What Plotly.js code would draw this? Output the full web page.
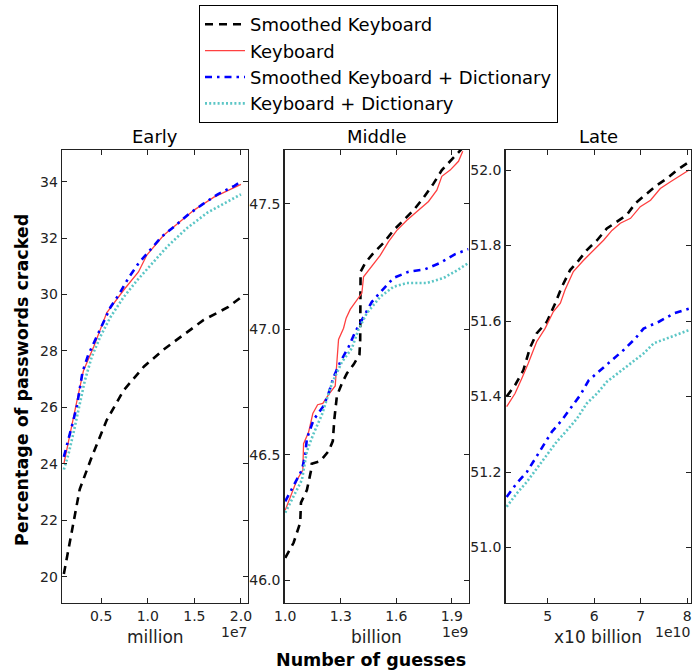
<!DOCTYPE html>
<html>
<head>
<meta charset="utf-8">
<script src="https://cdn.plot.ly/plotly-3.0.1.min.js"></script>
<style>html,body{margin:0;padding:0;background:#fff;}#chart{width:693px;height:671px;}</style>
</head>
<body>
<div id="chart"></div>
<script>
// ---------- Data ----------
const seriesNames = ["Smoothed Keyboard", "Keyboard", "Smoothed Keyboard + Dictionary", "Keyboard + Dictionary"];
const panelTitles = ["Early", "Middle", "Late"];
const unitLabels = ["million", "billion", "x10 billion"];
const offsetLabels = ["1e7", "1e9", "1e10"];

// Early panel (guesses)
const earlySKx = [1.0e6, 1.8e6, 2.7e6, 4.0e6, 5.6e6, 7.4e6, 9.6e6, 1.17e7, 1.39e7, 1.6e7, 1.86e7, 2.0e7];
const earlySKy = [20.1, 21.5, 23.1, 24.25, 25.55, 26.6, 27.45, 28.05, 28.6, 29.1, 29.55, 29.9];
const earlyKx = [1.0e6, 1.65e6, 2.35e6, 3.1e6, 4.2e6, 5.6e6, 7.4e6, 9.0e6, 9.9e6, 1.17e7, 1.5e7, 1.71e7, 2.0e7];
const earlyKy = [24.0, 25.1, 26.15, 27.3, 28.15, 29.35, 30.15, 30.8, 31.4, 32.1, 33.0, 33.45, 33.9];
const earlySKDx = [1.0e6, 1.5e6, 1.95e6, 2.4e6, 3.0e6, 3.6e6, 4.35e6, 5.1e6, 6.0e6, 7.0e6, 7.95e6, 9.0e6, 1.03e7, 1.15e7, 1.3e7, 1.44e7, 1.59e7, 1.75e7, 1.93e7, 2.0e7];
const earlySKDy = [24.25, 24.85, 25.45, 26.05, 27.25, 27.85, 28.4, 28.95, 29.55, 30.05, 30.6, 31.1, 31.6, 32.05, 32.45, 32.85, 33.2, 33.55, 33.85, 34.0];
const earlyKDx = [1.0e6, 1.5e6, 2.0e6, 2.55e6, 3.25e6, 4.0e6, 4.9e6, 6.0e6, 7.4e6, 8.85e6, 1.03e7, 1.21e7, 1.42e7, 1.64e7, 1.86e7, 2.0e7];
const earlyKDy = [23.8, 24.35, 25.05, 25.9, 26.95, 27.8, 28.5, 29.2, 29.9, 30.5, 31.05, 31.7, 32.35, 32.9, 33.3, 33.55];

// Middle panel
const midSKx = [1.0e9, 1.045e9, 1.081e9, 1.085e9, 1.117e9, 1.14e9, 1.143e9, 1.189e9, 1.234e9, 1.257e9, 1.265e9, 1.279e9, 1.306e9, 1.333e9, 1.369e9, 1.401e9, 1.405e9, 1.406e9, 1.407e9, 1.432e9, 1.477e9, 1.531e9, 1.585e9, 1.639e9, 1.693e9, 1.747e9, 1.80e9, 1.846e9, 1.891e9, 1.927e9, 1.954e9];
const midSKy = [46.09, 46.15, 46.23, 46.31, 46.36, 46.44, 46.465, 46.475, 46.515, 46.555, 46.64, 46.735, 46.785, 46.825, 46.86, 46.9, 46.96, 47.09, 47.23, 47.265, 47.305, 47.345, 47.395, 47.435, 47.475, 47.525, 47.58, 47.635, 47.67, 47.695, 47.72];
const midKx = [1.0e9, 1.027e9, 1.063e9, 1.095e9, 1.099e9, 1.126e9, 1.149e9, 1.175e9, 1.203e9, 1.234e9, 1.27e9, 1.279e9, 1.288e9, 1.315e9, 1.329e9, 1.351e9, 1.378e9, 1.414e9, 1.423e9, 1.459e9, 1.513e9, 1.558e9, 1.603e9, 1.657e9, 1.711e9, 1.774e9, 1.819e9, 1.846e9, 1.891e9, 1.936e9, 1.959e9];
const midKy = [46.28, 46.335, 46.4, 46.44, 46.545, 46.59, 46.665, 46.7, 46.705, 46.74, 46.775, 46.87, 46.96, 47.005, 47.045, 47.08, 47.11, 47.145, 47.21, 47.245, 47.295, 47.35, 47.395, 47.435, 47.47, 47.51, 47.555, 47.61, 47.635, 47.67, 47.71];
const midSKDx = [1.0e9, 1.045e9, 1.09e9, 1.108e9, 1.117e9, 1.153e9, 1.207e9, 1.234e9, 1.261e9, 1.297e9, 1.342e9, 1.378e9, 1.423e9, 1.468e9, 1.522e9, 1.585e9, 1.666e9, 1.756e9, 1.837e9, 1.918e9, 1.99e9];
const midSKDy = [46.315, 46.375, 46.44, 46.5, 46.565, 46.64, 46.695, 46.745, 46.81, 46.87, 46.93, 46.99, 47.05, 47.11, 47.155, 47.205, 47.23, 47.24, 47.265, 47.3, 47.32];
const midKDx = [1.0e9, 1.045e9, 1.09e9, 1.117e9, 1.153e9, 1.198e9, 1.252e9, 1.306e9, 1.36e9, 1.396e9, 1.441e9, 1.513e9, 1.585e9, 1.657e9, 1.765e9, 1.855e9, 1.927e9, 1.99e9];
const midKDy = [46.27, 46.335, 46.4, 46.515, 46.585, 46.66, 46.785, 46.87, 46.925, 47.0, 47.065, 47.13, 47.17, 47.185, 47.185, 47.205, 47.235, 47.265];

// Late panel
const lateSKx = [4.115e10, 4.295e10, 4.475e10, 4.62e10, 4.76e10, 4.98e10, 5.16e10, 5.30e10, 5.48e10, 5.66e10, 5.84e10, 6.06e10, 6.27e10, 6.49e10, 6.70e10, 6.885e10, 7.10e10, 7.35e10, 7.57e10, 7.78e10, 8.0e10];
const lateSKy = [51.4, 51.43, 51.47, 51.53, 51.567, 51.598, 51.647, 51.69, 51.735, 51.76, 51.788, 51.814, 51.845, 51.863, 51.881, 51.912, 51.934, 51.96, 51.978, 52.0, 52.018];
const lateKx = [4.115e10, 4.295e10, 4.44e10, 4.58e10, 4.76e10, 4.94e10, 5.12e10, 5.27e10, 5.37e10, 5.55e10, 5.77e10, 5.99e10, 6.20e10, 6.38e10, 6.56e10, 6.78e10, 6.99e10, 7.21e10, 7.42e10, 7.64e10, 7.86e10, 8.04e10];
const lateKy = [51.373, 51.408, 51.448, 51.488, 51.545, 51.58, 51.625, 51.647, 51.682, 51.731, 51.761, 51.788, 51.814, 51.84, 51.859, 51.872, 51.903, 51.92, 51.951, 51.969, 51.987, 52.0];
const lateSKDx = [4.115e10, 4.33e10, 4.55e10, 4.73e10, 4.91e10, 5.09e10, 5.30e10, 5.52e10, 5.70e10, 5.88e10, 6.13e10, 6.38e10, 6.63e10, 6.885e10, 7.06e10, 7.39e10, 7.71e10, 8.04e10];
const lateSKDy = [51.134, 51.17, 51.2, 51.236, 51.271, 51.307, 51.337, 51.373, 51.404, 51.443, 51.47, 51.496, 51.523, 51.554, 51.58, 51.598, 51.62, 51.633];
const lateKDx = [4.115e10, 4.33e10, 4.55e10, 4.76e10, 4.98e10, 5.19e10, 5.41e10, 5.63e10, 5.84e10, 6.06e10, 6.27e10, 6.56e10, 6.85e10, 7.06e10, 7.28e10, 7.57e10, 7.78e10, 8.04e10];
const lateKDy = [51.108, 51.143, 51.174, 51.209, 51.245, 51.28, 51.31, 51.342, 51.382, 51.408, 51.439, 51.466, 51.492, 51.514, 51.541, 51.554, 51.563, 51.576];

// Tick labels
const earlyXTickVals = [5e6, 1e7, 1.5e7, 2e7];
const earlyXTickText = ["0.5", "1.0", "1.5", "2.0"];
const midXTickVals = [1.0e9, 1.3e9, 1.6e9, 1.9e9];
const midXTickText = ["1.0", "1.3", "1.6", "1.9"];
const lateXTickVals = [5e10, 6e10, 7e10, 8e10];
const lateXTickText = ["5", "6", "7", "8"];
const earlyYTickVals = [20, 22, 24, 26, 28, 30, 32, 34];
const midYTickVals = [46.0, 46.5, 47.0, 47.5];
const lateYTickVals = [51.0, 51.2, 51.4, 51.6, 51.8, 52.0];

// ---------- Styles ----------
const styles = [
  {color: "#000000", dash: "8px,6px", width: 2.6},
  {color: "#ff4040", dash: "solid", width: 1.3},
  {color: "#0000ff", dash: "7px,5px,2.5px,5px", width: 2.6},
  {color: "#5cc6c6", dash: "2px,2.2px", width: 2.6}
];

const panels = [
  {xs: [earlySKx, earlyKx, earlySKDx, earlyKDx], ys: [earlySKy, earlyKy, earlySKDy, earlyKDy]},
  {xs: [midSKx, midKx, midSKDx, midKDx], ys: [midSKy, midKy, midSKDy, midKDy]},
  {xs: [lateSKx, lateKx, lateSKDx, lateKDx], ys: [lateSKy, lateKy, lateSKDy, lateKDy]}
];

const traces = [];
panels.forEach((p, i) => {
  const sfx = i === 0 ? "" : String(i + 1);
  for (let s = 0; s < 4; s++) {
    traces.push({
      type: "scatter", mode: "lines",
      x: p.xs[s], y: p.ys[s],
      xaxis: "x" + sfx, yaxis: "y" + sfx,
      name: seriesNames[s],
      showlegend: i === 0,
      line: {color: styles[s].color, dash: styles[s].dash, width: styles[s].width}
    });
  }
});

const W = 693, H = 671;
const px = (x) => x / W;
const py = (y) => 1 - y / H;
const yDom = [py(603), py(150)];
const xDoms = [[px(62), px(247.5)], [px(284.5), px(468.5)], [px(505.5), px(690.5)]];

const font = {family: "DejaVu Sans, sans-serif", color: "#000"};
function axisBase(extra) {
  return Object.assign({
    showgrid: false, zeroline: false, showline: true, mirror: "ticks",
    linecolor: "#222", linewidth: 1.3, ticks: "inside", ticklen: 5, tickwidth: 1, tickcolor: "#222",
    tickfont: {family: font.family, size: 14, color: "#222"}
  }, extra);
}

const layout = {
  width: W, height: H,
  margin: {l: 0, r: 0, t: 0, b: 0},
  paper_bgcolor: "#fff", plot_bgcolor: "#fff",
  font: font,
  showlegend: true,
  legend: {
    x: px(199), y: py(5), xanchor: "left", yanchor: "top",
    bordercolor: "#000", borderwidth: 1, bgcolor: "#fff",
    font: {family: font.family, size: 18, color: "#000"},
    tracegroupgap: 0, itemwidth: 40
  },
  xaxis: axisBase({domain: xDoms[0], anchor: "y", range: [0.08e7, 2.07e7], tickvals: earlyXTickVals, ticktext: earlyXTickText}),
  yaxis: axisBase({domain: yDom, anchor: "x", range: [19.07, 35.12], tickvals: earlyYTickVals}),
  xaxis2: axisBase({domain: xDoms[1], anchor: "y2", range: [0.996e9, 1.99e9], tickvals: midXTickVals, ticktext: midXTickText}),
  yaxis2: axisBase({domain: yDom, anchor: "x2", range: [45.91, 47.715], tickvals: midYTickVals, tickformat: ".1f"}),
  xaxis3: axisBase({domain: xDoms[2], anchor: "y3", range: [4.09e10, 8.07e10], tickvals: lateXTickVals, ticktext: lateXTickText}),
  yaxis3: axisBase({domain: yDom, anchor: "x3", range: [50.853, 52.053], tickvals: lateYTickVals, tickformat: ".1f"}),
  annotations: []
};

const centers = xDoms.map(d => (d[0] + d[1]) / 2);
panelTitles.forEach((t, i) => {
  layout.annotations.push({text: t, xref: "paper", yref: "paper", x: centers[i], y: py(137), xanchor: "center", yanchor: "middle", showarrow: false, font: {family: font.family, size: 18, color: "#000"}});
});
const unitX = [155, 376, 598];
unitLabels.forEach((t, i) => {
  layout.annotations.push({text: t, xref: "paper", yref: "paper", x: px(unitX[i]), y: py(637), xanchor: "center", yanchor: "middle", showarrow: false, font: {family: font.family, size: 17, color: "#222"}});
});
offsetLabels.forEach((t, i) => {
  layout.annotations.push({text: t, xref: "paper", yref: "paper", x: xDoms[i][1] + px(1), y: py(632), xanchor: "right", yanchor: "middle", showarrow: false, font: {family: font.family, size: 14, color: "#222"}});
});
layout.annotations.push({text: "<b>Number of guesses</b>", xref: "paper", yref: "paper", x: px(371), y: py(660), xanchor: "center", yanchor: "middle", showarrow: false, font: {family: font.family, size: 17.5, color: "#000"}});
layout.annotations.push({text: "<b>Percentage of passwords cracked</b>", xref: "paper", yref: "paper", x: px(22), y: py(380), xanchor: "center", yanchor: "middle", textangle: -90, showarrow: false, font: {family: font.family, size: 17.5, color: "#000"}});

Plotly.newPlot("chart", traces, layout, {staticPlot: true, displayModeBar: false});
</script>
</body>
</html>
